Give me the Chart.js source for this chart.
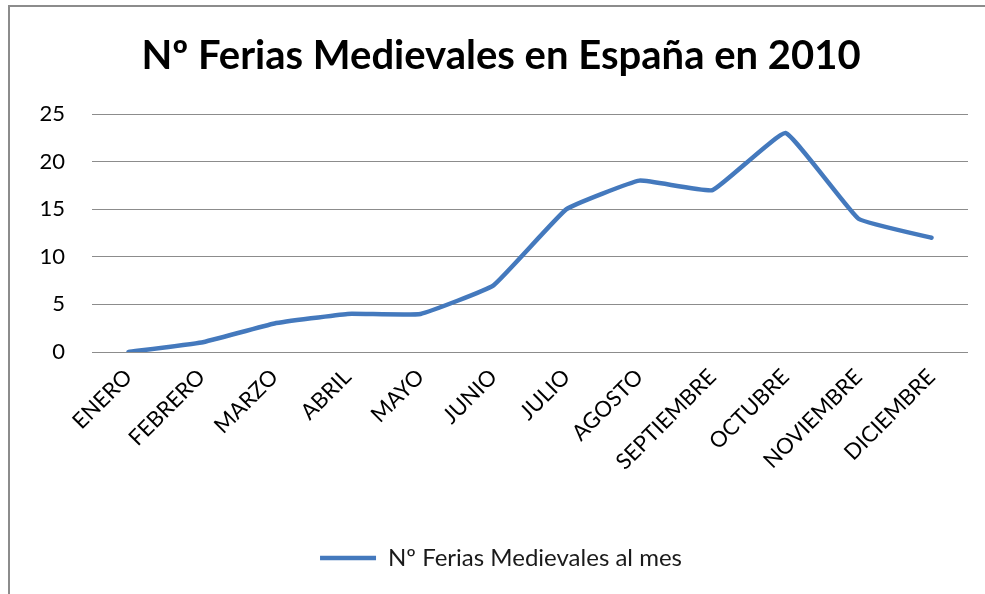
<!DOCTYPE html>
<html>
<head>
<meta charset="utf-8">
<script src="https://cdn.jsdelivr.net/npm/chart.js@4/dist/chart.umd.min.js"></script>
<style>
  html, body { margin: 0; padding: 0; background: #fff; }
  #wrap { position: relative; width: 985px; height: 594px; }
</style>
</head>
<body>
<div id="wrap"><canvas id="feriasChart" width="985" height="594"></canvas></div>
<script>
const months = ["ENERO", "FEBRERO", "MARZO", "ABRIL", "MAYO", "JUNIO", "JULIO", "AGOSTO", "SEPTIEMBRE", "OCTUBRE", "NOVIEMBRE", "DICIEMBRE"];
const feriasPorMes = [0, 1, 3, 4, 4, 7, 15, 18, 17, 23, 14, 12];
const yTicks = [0, 5, 10, 15, 20, 25];

const seriesLabel = "Nº Ferias Medievales al mes";
const chartTitle = "Nº Ferias Medievales en España en 2010";

// frame of the chart object (only left and top edges visible in the picture)
const framePlugin = {
  id: "frame",
  afterDraw(chart) {
    const ctx = chart.ctx;
    ctx.save();
    ctx.strokeStyle = "#8c8c8c";
    ctx.lineWidth = 2;
    ctx.beginPath();
    ctx.moveTo(9, 600);
    ctx.lineTo(9, 6);
    ctx.lineTo(990, 6);
    ctx.stroke();
    ctx.restore();
  },
};

document.addEventListener("DOMContentLoaded", () => {
  const ctx = document.getElementById("feriasChart").getContext("2d");

  const config = {
    type: "line",
    data: {
      labels: months,
      datasets: [
        {
          label: seriesLabel,
          data: feriasPorMes,
          borderColor: "#4479bd",
          backgroundColor: "#4479bd",
          borderWidth: 4.5,
          borderCapStyle: "round",
          borderJoinStyle: "round",
          pointRadius: 0,
          tension: 0.1,
          fill: false,
        },
      ],
    },
    options: {
      responsive: false,
      animation: false,
      layout: {
        padding: { left: 34, right: 17, top: 0, bottom: 14 },
      },
      plugins: {
        title: {
          display: true,
          text: chartTitle,
          color: "#000",
          font: { family: "Lato", size: 40, weight: "bold" },
          padding: { top: 32, bottom: 34 },
        },
        legend: {
          position: "bottom",
          labels: {
            color: "#1a1a1a",
            font: { family: "Lato", size: 24 },
            usePointStyle: true,
            pointStyle: "line",
            pointStyleWidth: 56,
            boxHeight: 24,
            padding: 10,
          },
        },
        tooltip: { enabled: false },
      },
      scales: {
        x: {
          offset: true,
          grid: { display: false },
          border: { display: false },
          ticks: {
            color: "#000",
            font: { family: "Lato", size: 22 },
            maxRotation: 45,
            minRotation: 45,
            padding: 4,
            autoSkip: false,
          },
          afterFit: (scale) => {
            scale.height = 184;
          },
        },
        y: {
          min: 0,
          max: 25,
          afterBuildTicks: (scale) => {
            scale.ticks = yTicks.map((v) => ({ value: v }));
          },
          grid: { color: "#8c8c8c", lineWidth: 1, drawTicks: false },
          border: { display: false },
          ticks: {
            color: "#000",
            font: { family: "Lato", size: 22 },
            padding: 27,
          },
          afterFit: (scale) => {
            scale.width = 58;
          },
        },
      },
    },
    plugins: [framePlugin],
  };

  new Chart(ctx, config);
});
</script>
</body>
</html>
